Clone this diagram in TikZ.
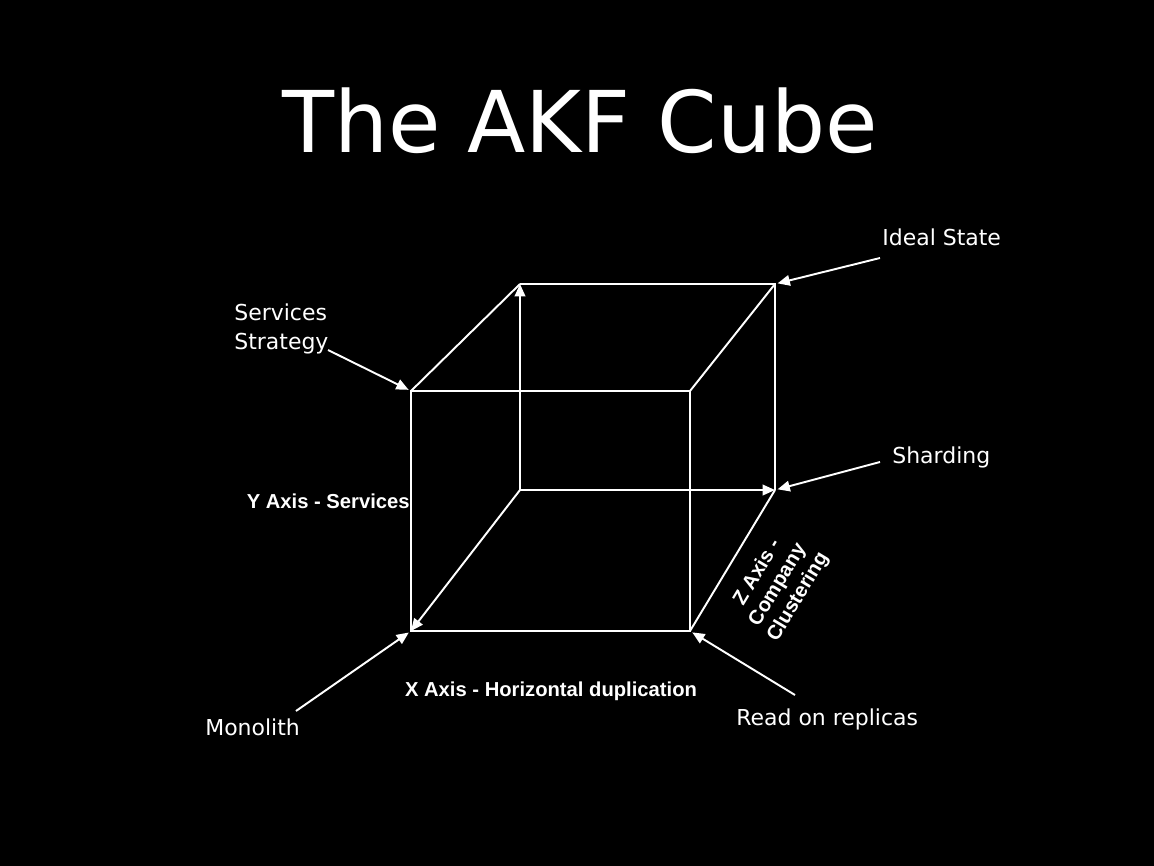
\documentclass[tikz,border=0pt]{standalone}
\usepackage{fontspec}
\setmainfont{DejaVu Sans}
\newfontfamily\axisfont{Liberation Sans}
\usetikzlibrary{arrows.meta, positioning}

\begin{document}
\begin{tikzpicture}[x=0.02cm, y=-0.02cm,
	edge/.style={white, line width=1.1pt},
	axis/.style={edge, -{Triangle[length=7pt,width=6pt]}},
	pointer/.style={edge, shorten >=1.5pt, -{Triangle[length=7pt,width=6pt]}},
	caption/.style={text=white, inner sep=0pt, font=\fontsize{12.5}{17}\selectfont},
	axislabel/.style={text=white, inner sep=0pt, font=\axisfont\bfseries\fontsize{11.5}{13.5}\selectfont}]
	% background and frame
	\fill[black] (0,0) rectangle (1154,866);
	\node[text=white, font=\fontsize{48.5}{58}\selectfont] (title) at (580,121) {The AKF Cube};

	% cube corners
	\coordinate (o) at (520,490);
	\coordinate (btl) at (520,284);
	\coordinate (btr) at (775,284);
	\coordinate (bbr) at (775,490);
	\coordinate (ftl) at (411,391);
	\coordinate (ftr) at (690,391);
	\coordinate (fbl) at (411,631);
	\coordinate (fbr) at (690,631);

	% cube
	\draw[edge] (ftl) -- (ftr) -- (fbr) -- (fbl) -- cycle;
	\draw[edge] (btl) -- (btr) -- (bbr);
	\draw[edge] (ftl) -- (btl);
	\draw[edge] (ftr) -- (btr);
	\draw[edge] (fbr) -- (bbr);
	\draw[axis] (o) -- (btl);
	\draw[axis] (o) -- (bbr);
	\draw[axis] (o) -- (fbl);

	% axis labels
	\node[axislabel, anchor=east] (ylabel) at (410,501) {Y Axis - Services};
	\node[axislabel] (xlabel) at (551,691) {X Axis - Horizontal duplication};
	\node[axislabel, rotate=59, align=center] (zlabel) at (778,585) {Z Axis -\\Company\\Clustering};

	% states
	\node[caption, anchor=west, align=left] (services) at (234,329) {Services\\Strategy};
	\node[caption, anchor=west] (ideal) at (882,237) {Ideal State};
	\node[caption, anchor=west] (sharding) at (892,457) {Sharding};
	\node[caption, anchor=west] (monolith) at (205,727) {Monolith};
	\node[caption, anchor=west] (replicas) at (736,719) {Read on replicas};

	\coordinate (servicesend) at (328,350);
	\coordinate (idealend) at (880,258);
	\coordinate (shardingend) at (880,462);
	\coordinate (monolithend) at (296,711);
	\coordinate (replicasend) at (795,695);

	\draw[pointer] (servicesend) -- (ftl);
	\draw[pointer] (idealend) -- (btr);
	\draw[pointer] (shardingend) -- (bbr);
	\draw[pointer] (monolithend) -- (fbl);
	\draw[pointer] (replicasend) -- (fbr);
\end{tikzpicture}
\end{document}
